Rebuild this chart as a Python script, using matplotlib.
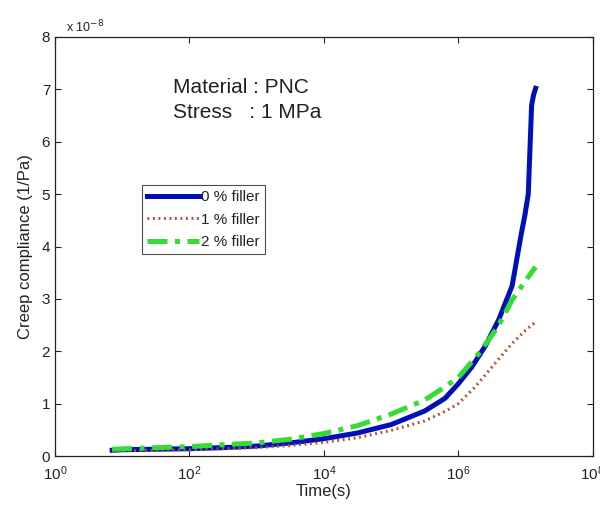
import numpy as np
import matplotlib.pyplot as plt

# log10 of time (s) and creep compliance in units of 1e-8 1/Pa
logt_0 = [0.85, 1.0, 1.5, 2.0, 2.5, 3.0, 3.5, 4.0, 4.5, 5.0, 5.5, 5.8, 6.0, 6.2, 6.4,
          6.6, 6.8, 6.93, 6.99, 7.04, 7.09, 7.12, 7.15]
comp_0 = [0.11, 0.12, 0.13, 0.14, 0.16, 0.19, 0.25, 0.33, 0.44, 0.60, 0.86, 1.1, 1.38,
          1.7, 2.1, 2.6, 3.25, 4.2, 4.6, 5.0, 6.7, 6.9, 7.02]

logt_1 = [0.85, 2.0, 3.0, 3.5, 4.0, 4.5, 5.0, 5.5, 5.8, 6.0, 6.25, 6.5, 6.8, 7.0, 7.15]
comp_1 = [0.10, 0.12, 0.16, 0.20, 0.26, 0.35, 0.49, 0.67, 0.85, 1.0, 1.32, 1.7, 2.15,
          2.4, 2.56]

logt_2 = [0.85, 2.0, 3.0, 3.5, 4.0, 4.5, 5.0, 5.5, 5.8, 6.0, 6.3, 6.59, 6.8, 7.0, 7.15]
comp_2 = [0.13, 0.18, 0.25, 0.32, 0.43, 0.58, 0.80, 1.07, 1.32, 1.5, 1.95, 2.47, 2.98,
          3.35, 3.61]

labels = ["0 % filler", "1 % filler", "2 % filler"]

plt.rcParams.update({
    "font.family": ["Liberation Sans", "DejaVu Sans"],
    "font.size": 11,
    "text.color": "#222222",
    "axes.labelcolor": "#222222",
    "xtick.color": "#222222",
    "ytick.color": "#222222",
    "xtick.direction": "in",
    "ytick.direction": "in",
    "xtick.top": True,
    "ytick.right": True,
})

fig = plt.figure(figsize=(6.0, 5.11), dpi=100)
ax = fig.add_axes([0.0917, 0.1076, 0.8963, 0.82])

ax.plot(10 ** np.array(logt_0), comp_0, color="#0010b8", linewidth=3.6,
        label=labels[0])
ax.plot(10 ** np.array(logt_1), comp_1, color="#b05030", linewidth=2.2,
        linestyle=(0, (0.6, 1.2)), label=labels[1])
ax.plot(10 ** np.array(logt_2), comp_2, color="#33dd33", linewidth=3.6,
        linestyle=(0, (4, 1.5, 1, 1.5)), label=labels[2])

ax.set_xscale("log")
ax.set_xlim(1, 1e8)
ax.set_ylim(0, 8)
ax.set_xticks([1, 1e2, 1e4, 1e6, 1e8])
ax.xaxis.set_minor_locator(plt.NullLocator())
ax.set_yticks(range(0, 9))
ax.tick_params(length=4, width=0.8, labelsize=11)
ax.tick_params(axis="x", pad=6)

ax.set_xlabel("Time(s)", fontsize=12, labelpad=1)
ax.set_ylabel("Creep compliance (1/Pa)", fontsize=12, labelpad=6)

ax.text(0.02, 1.005, r"x 10$^{-8}$", transform=ax.transAxes, fontsize=9,
        ha="left", va="bottom")

ax.text(0.219, 0.866, "Material : PNC", transform=ax.transAxes, fontsize=15,
        va="baseline")
ax.text(0.219, 0.807, "Stress   : 1 MPa", transform=ax.transAxes, fontsize=15,
        va="baseline")

leg = ax.legend(loc="upper left", bbox_to_anchor=(0.162, 0.647), fontsize=11,
                frameon=True, fancybox=False, edgecolor="#222222",
                handlelength=3.4, handletextpad=0.1, borderpad=0.35,
                labelspacing=0.55, borderaxespad=0)
leg.get_frame().set_linewidth(0.8)

for s in ax.spines.values():
    s.set_linewidth(0.9)
    s.set_color("#222222")

fig.savefig("out.png", dpi=100)
